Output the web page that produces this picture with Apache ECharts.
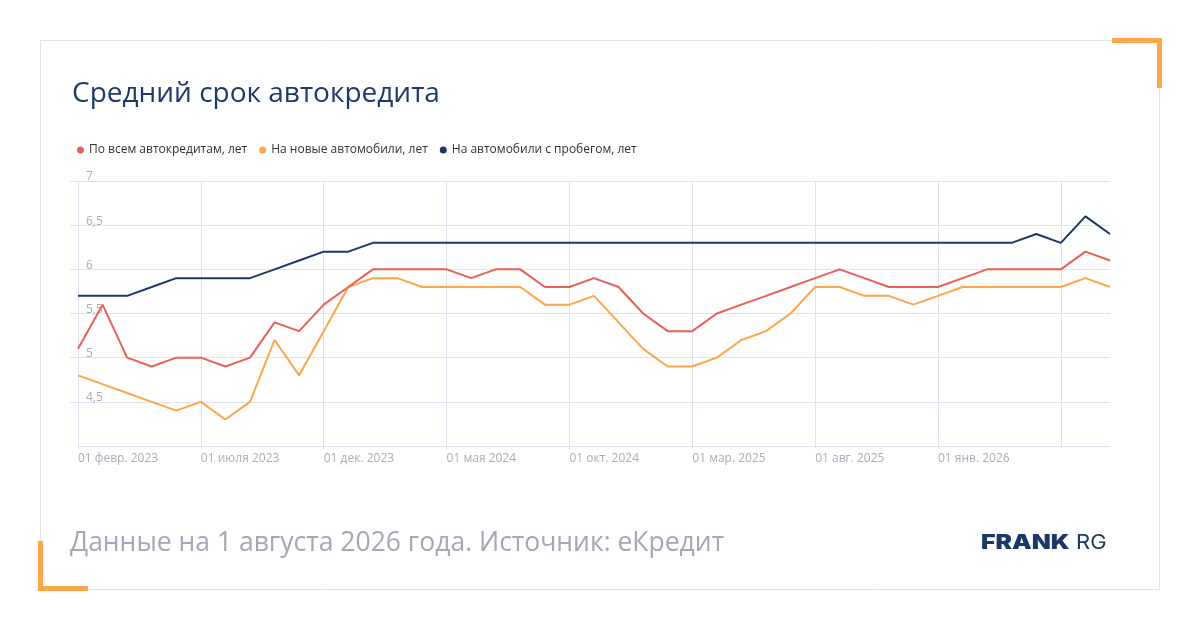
<!DOCTYPE html>
<html>
<head>
<meta charset="utf-8">
<script src="https://cdn.jsdelivr.net/npm/echarts@6/dist/echarts.min.js"></script>
<style>
html,body{margin:0;padding:0;background:#fff;}
#chart{width:1200px;height:630px;}
</style>
</head>
<body>
<div id="chart"></div>
<script>
var categories = [
  '01 февр. 2023','01 мар. 2023','01 апр. 2023','01 мая 2023','01 июня 2023','01 июля 2023','01 авг. 2023','01 сент. 2023','01 окт. 2023','01 нояб. 2023','01 дек. 2023',
  '01 янв. 2024','01 февр. 2024','01 мар. 2024','01 апр. 2024','01 мая 2024','01 июня 2024','01 июля 2024','01 авг. 2024','01 сент. 2024','01 окт. 2024','01 нояб. 2024','01 дек. 2024',
  '01 янв. 2025','01 февр. 2025','01 мар. 2025','01 апр. 2025','01 мая 2025','01 июня 2025','01 июля 2025','01 авг. 2025','01 сент. 2025','01 окт. 2025','01 нояб. 2025','01 дек. 2025',
  '01 янв. 2026','01 февр. 2026','01 мар. 2026','01 апр. 2026','01 мая 2026','01 июня 2026','01 июля 2026','01 авг. 2026'
];
var allLoans = [5.1,5.6,5.0,4.9,5.0,5.0,4.9,5.0,5.4,5.3,5.6,5.8,6.0,6.0,6.0,6.0,5.9,6.0,6.0,5.8,5.8,5.9,5.8,5.5,5.3,5.3,5.5,5.6,5.7,5.8,5.9,6.0,5.9,5.8,5.8,5.8,5.9,6.0,6.0,6.0,6.0,6.2,6.1];
var newCars = [4.8,4.7,4.6,4.5,4.4,4.5,4.3,4.5,5.2,4.8,5.3,5.8,5.9,5.9,5.8,5.8,5.8,5.8,5.8,5.6,5.6,5.7,5.4,5.1,4.9,4.9,5.0,5.2,5.3,5.5,5.8,5.8,5.7,5.7,5.6,5.7,5.8,5.8,5.8,5.8,5.8,5.9,5.8];
var usedCars = [5.7,5.7,5.7,5.8,5.9,5.9,5.9,5.9,6.0,6.1,6.2,6.2,6.3,6.3,6.3,6.3,6.3,6.3,6.3,6.3,6.3,6.3,6.3,6.3,6.3,6.3,6.3,6.3,6.3,6.3,6.3,6.3,6.3,6.3,6.3,6.3,6.3,6.3,6.3,6.4,6.3,6.6,6.4];
var seriesNames = ['По всем автокредитам, лет','На новые автомобили, лет','На автомобили с пробегом, лет'];
var titleText = 'Средний срок автокредита';
var footerText = 'Данные на 1 августа 2026 года. Источник: еКредит';

var gridColor = '#dde3ef';
var labelColor = '#a9aebb';
var font = '"Open Sans", "Noto Sans", sans-serif';
var logoFont = '"Inter", "DejaVu Sans", sans-serif';

var chart = echarts.init(document.getElementById('chart'), null, {renderer:'canvas'});
chart.setOption({
  backgroundColor: '#ffffff',
  animation: false,
  color: ['#eb5f5a','#ffa54a','#1b3868'],
  textStyle: {fontFamily: font},
  title: {
    text: titleText,
    left: 67, top: 75,
    textStyle: {fontFamily: font, fontSize: 28, fontWeight: 'normal', color: '#1e3a6c'}
  },
  legend: {
    left: 72, top: 139,
    icon: 'circle',
    itemWidth: 7, itemHeight: 7, itemGap: 12,
    textStyle: {fontFamily: font, fontSize: 12, color: '#333333'},
    data: seriesNames
  },
  grid: {left: 78, right: 90, top: 181, bottom: 184, containLabel: false},
  xAxis: {
    type: 'category',
    data: categories,
    boundaryGap: false,
    axisLine: {show: true, lineStyle: {color: gridColor, width: 1}},
    axisTick: {show: true, length: 3, lineStyle: {color: gridColor}, interval: function(i){return i % 5 === 0;}},
    axisLabel: {
      color: labelColor, fontSize: 12, fontFamily: font, align: 'left', margin: 7,
      interval: function(i){return i % 5 === 0 && i < 40;}
    },
    splitLine: {show: true, lineStyle: {color: gridColor, width: 1}, interval: function(i){return i % 5 === 0;}}
  },
  yAxis: {
    type: 'value',
    min: 4, max: 7, interval: 0.5,
    axisLine: {show: false},
    axisTick: {show: true, length: 8, lineStyle: {color: gridColor}},
    axisLabel: {
      inside: true, verticalAlign: 'bottom', lineHeight: 8, margin: 8, showMinLabel: false,
      color: labelColor, fontSize: 12, fontFamily: font,
      formatter: function(v){return String(v).replace('.', ',');}
    },
    splitLine: {show: true, lineStyle: {color: gridColor, width: 1}}
  },
  series: [
    {name: seriesNames[0], type: 'line', data: allLoans, showSymbol: false, symbol: 'circle', lineStyle: {width: 2}, z: 3},
    {name: seriesNames[1], type: 'line', data: newCars, showSymbol: false, symbol: 'circle', lineStyle: {width: 2}, z: 2},
    {name: seriesNames[2], type: 'line', data: usedCars, showSymbol: false, symbol: 'circle', lineStyle: {width: 2}, z: 4}
  ],
  graphic: [
    {type: 'rect', shape: {x: 40.5, y: 40.5, width: 1119, height: 549}, style: {fill: 'none', stroke: '#e2e2e2', lineWidth: 1}, z: -1},
    {type: 'rect', shape: {x: 1112, y: 38, width: 50, height: 5}, style: {fill: '#ffa54a'}},
    {type: 'rect', shape: {x: 1157, y: 38, width: 5, height: 50}, style: {fill: '#ffa54a'}},
    {type: 'rect', shape: {x: 38, y: 541, width: 5, height: 50}, style: {fill: '#ffa54a'}},
    {type: 'rect', shape: {x: 38, y: 586, width: 50, height: 5}, style: {fill: '#ffa54a'}},
    {type: 'text', x: 70, y: 530, style: {text: footerText, fontFamily: font, fontSize: 26.5, fill: '#a3a8b5'}},
    {type: 'text', x: 981, y: 533, scaleX: 1.24, style: {text: 'FRANK', fontFamily: logoFont, fontSize: 20, fontWeight: 900, fill: '#1b3868'}},
    {type: 'text', x: 1076, y: 533, scaleX: 1.1, style: {text: 'RG', fontFamily: logoFont, fontSize: 20, fontWeight: 'normal', fill: '#1b3868'}}
  ]
});
</script>
</body>
</html>
